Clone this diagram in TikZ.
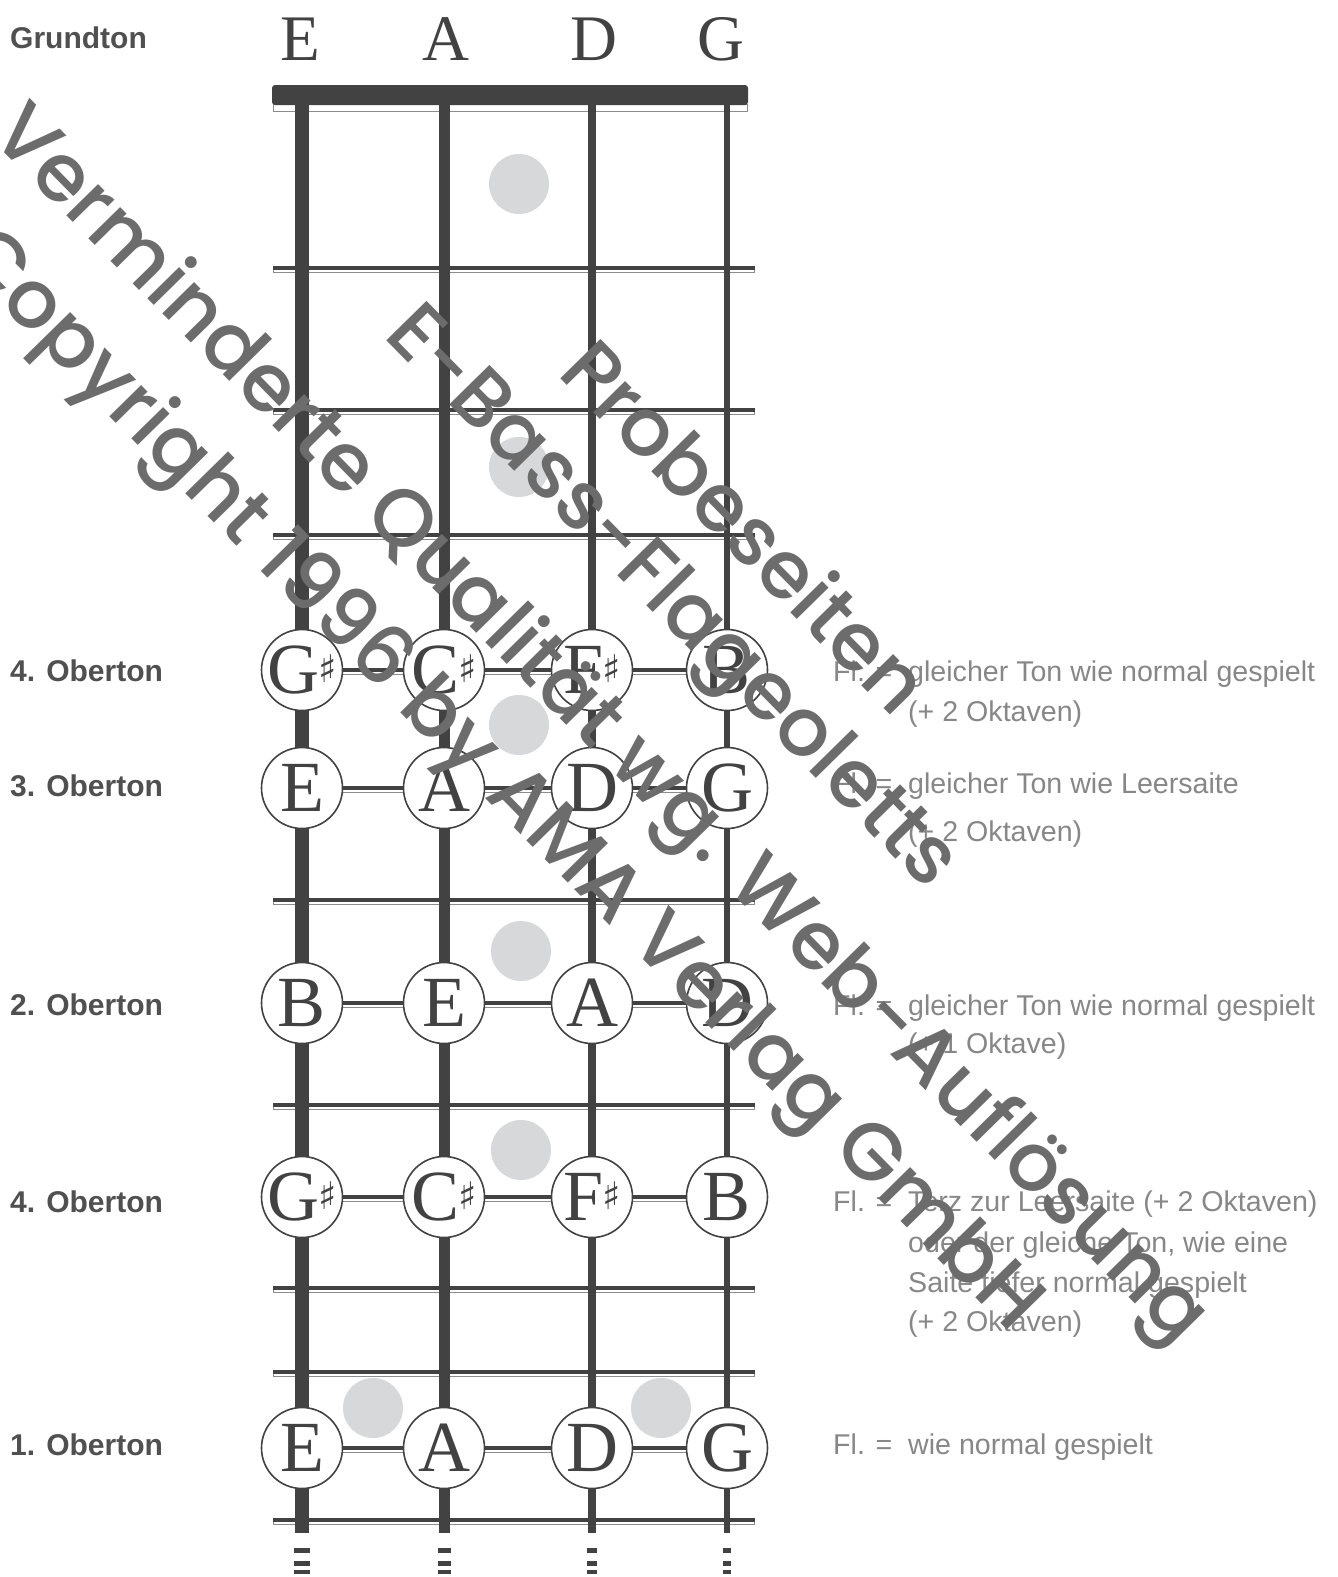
\documentclass[tikz,border=0pt]{standalone}
\usepackage{fontspec}
\setmainfont{Liberation Serif}
\newfontfamily\labfont{Liberation Sans}
\newfontfamily\wmfont{Poppins}[UprightFont={* Medium}]
\newfontfamily\sharpfont{DejaVu Sans}
\newcommand\shp{\kern-1pt\smash{\raisebox{11pt}{\sharpfont\fontsize{38}{38}\selectfont ♯}}}
\definecolor{ink}{RGB}{66,66,66}
\definecolor{lab}{RGB}{80,80,80}
\definecolor{txt}{RGB}{135,135,135}
\definecolor{dotc}{RGB}{214,216,218}
\definecolor{wm}{RGB}{108,108,108}
\definecolor{fretgray}{RGB}{140,140,140}
\tikzset{
  notec/.style={circle, draw=ink, line width=1.6pt, fill=white, minimum size=81pt, inner sep=-10pt, font=\fontsize{72}{72}\selectfont, text=ink},
  head/.style={anchor=base, font=\fontsize{65}{65}\selectfont, text=ink, inner sep=0pt},
  rowlab/.style={anchor=base west, font=\labfont\bfseries\fontsize{30}{30}\selectfont, text=lab, inner sep=0pt},
  expl/.style={anchor=base west, font=\labfont\fontsize{28.6}{28.6}\selectfont, text=txt, inner sep=0pt},
  fretbar/.style={line width=3.5pt, draw=ink},
  fretlow/.style={line width=1pt, draw=fretgray},
  inlay/.style={fill=dotc},
  wmtext/.style={anchor=base west, rotate=-45.5, font=\wmfont\fontsize{81}{81}\selectfont, text=wm, inner sep=0pt}
}
\begin{document}
\begin{tikzpicture}[x=1pt,y=-1pt]
\useasboundingbox (0,0) rectangle (1338,1577);
\fill[white] (0,0) rectangle (1338,1577);
\begin{scope}
\clip (0,0) rectangle (1338,1577);
% inlay dots
\foreach \px/\py in {519/184,519/467,519/725,521/951,521/1150,373/1408,661/1408}
  \fill[inlay] (\px,\py) circle (30);
% nut
\draw[fretlow] (273.5,104) rectangle (747.5,111);
\fill[ink, rounded corners=3pt] (272,85) rectangle (748,105);
% frets
\foreach \fy in {268,410,535,670,788,900,1003,1105,1197,1288,1372,1448,1520} {
  \draw[fretlow] (273.5,\fy) rectangle (754.5,\fy+4.5);
  \draw[fretbar] (273,\fy) -- (755,\fy);
}
% strings
\foreach \sx/\sw in {302/14,444/11,592/8,727/5.5} {
  \draw[ink, line width=\sw pt] (\sx,104) -- (\sx,1533);
  \fill[ink] (\sx-\sw/2-1,1548) rectangle (\sx+\sw/2+1,1553);
  \fill[ink] (\sx-\sw/2-1,1561) rectangle (\sx+\sw/2+1,1566);
  \fill[ink] (\sx-\sw/2-1,1570) rectangle (\sx+\sw/2+1,1574);
}
% header
\node[rowlab] (grund) at (10,48) {Grundton};
\node[head] (hE) at (300,60.5) {E};
\node[head] (hA) at (446,60.5) {A};
\node[head] (hD) at (594,60.5) {D};
\node[head] (hG) at (721,60.5) {G};
% rows of harmonics
\node[notec] (a1) at (302,670) {G\shp};
\node[notec] (a2) at (444,670) {C\shp};
\node[notec] (a3) at (592,670) {F\shp};
\node[notec] (a4) at (727,670) {B};
\node[notec] (b1) at (302,788) {E};
\node[notec] (b2) at (444,788) {A};
\node[notec] (b3) at (592,788) {D};
\node[notec] (b4) at (727,788) {G};
\node[notec] (c1) at (302,1003) {B};
\node[notec] (c2) at (444,1003) {E};
\node[notec] (c3) at (592,1003) {A};
\node[notec] (c4) at (727,1003) {D};
\node[notec] (d1) at (302,1197) {G\shp};
\node[notec] (d2) at (444,1197) {C\shp};
\node[notec] (d3) at (592,1197) {F\shp};
\node[notec] (d4) at (727,1197) {B};
\node[notec] (e1) at (302,1448) {E};
\node[notec] (e2) at (444,1448) {A};
\node[notec] (e3) at (592,1448) {D};
\node[notec] (e4) at (727,1448) {G};
% left labels
\node[rowlab] (la) at (10,681) {4. Oberton};
\node[rowlab] (lb) at (10,796) {3. Oberton};
\node[rowlab] (lc) at (10,1015) {2. Oberton};
\node[rowlab] (ld) at (10,1212) {4. Oberton};
\node[rowlab] (le) at (10,1455) {1. Oberton};
% right explanations
\node[expl] (fa) at (833,681) {Fl. =};
\node[expl] (ta1) at (908,681) {gleicher Ton wie normal gespielt};
\node[expl] (ta2) at (908,721) {(+ 2 Oktaven)};
\node[expl] (fb) at (833,793) {Fl. =};
\node[expl] (tb1) at (908,793) {gleicher Ton wie Leersaite};
\node[expl] (tb2) at (908,841) {(+ 2 Oktaven)};
\node[expl] (fc) at (833,1015) {Fl. =};
\node[expl] (tc1) at (908,1015) {gleicher Ton wie normal gespielt};
\node[expl] (tc2) at (908,1053) {(+ 1 Oktave)};
\node[expl] (fd) at (833,1211) {Fl. =};
\node[expl] (td1) at (908,1211) {Terz zur Leersaite (+ 2 Oktaven)};
\node[expl] (td2) at (908,1252) {oder der gleiche Ton, wie eine};
\node[expl] (td3) at (908,1292) {Saite tiefer normal gespielt};
\node[expl] (td4) at (908,1331) {(+ 2 Oktaven)};
\node[expl] (fe) at (833,1454) {Fl. =};
\node[expl] (te1) at (908,1454) {wie normal gespielt};
% watermark
\node[wmtext] (wm1) at (556,374) {Probeseiten};
\node[wmtext] (wm2) at (382,336) {E-Bass-Flageoletts};
\node[wmtext] (wm3) at (-12,136) {Verminderte Qualität wg. Web-Auflösung};
\node[wmtext] (wm4) at (-46,258) {Copyright 1996 by AMA Verlag GmbH};
\end{scope}
\end{tikzpicture}
\end{document}
